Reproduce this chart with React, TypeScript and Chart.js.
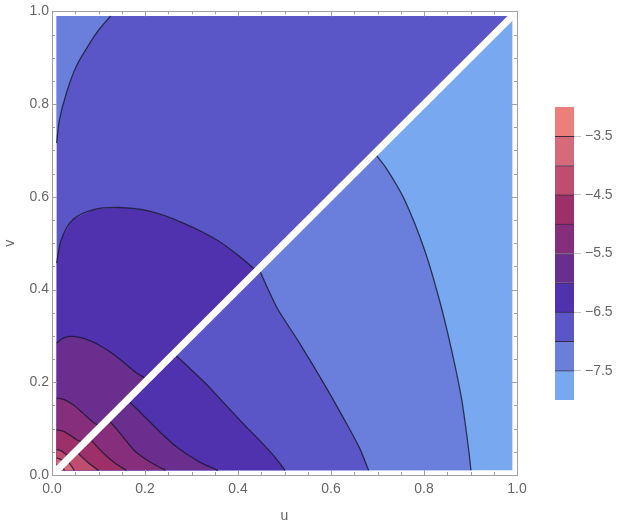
import React, { useEffect, useRef } from 'react';
import { Chart, registerables } from 'chart.js';
Chart.register(...registerables);

// ---------- data ----------
const U_MIN = 0.01;
const U_MAX = 0.99;

// band colours from level -8 (lowest) to -3 (highest), 0.5 steps
const bandColors = [
  '#78A8F0', '#6A7FDC', '#5A56C8', '#5031AE', '#6A2E8F',
  '#862E7B', '#9E3069', '#BE4D70', '#D6697A', '#EC7F7A',
];
const bandEdges = [-8, -7.5, -7, -6.5, -6, -5.5, -5, -4.5, -4, -3.5, -3];
const colorbarTicks = [-7.5, -6.5, -5.5, -4.5, -3.5];

const majorTicks = [0, 0.2, 0.4, 0.6, 0.8, 1.0];
const minorTicks = [0.05, 0.1, 0.15, 0.25, 0.3, 0.35, 0.45, 0.5, 0.55, 0.65, 0.7, 0.75, 0.85, 0.9, 0.95];

// contours above the diagonal (v > u), [u, v]
const upperM7 = [[0.01, 0.716], [0.016, 0.766], [0.031, 0.824], [0.052, 0.881], [0.081, 0.931], [0.102, 0.962], [0.126, 0.99]];
const upperM65 = [[0.01, 0.457], [0.02, 0.508], [0.045, 0.551], [0.088, 0.572], [0.145, 0.577], [0.21, 0.569], [0.281, 0.544], [0.353, 0.508], [0.403, 0.472], [0.44, 0.44]];
const upperM6 = [[0.01, 0.285], [0.025, 0.296], [0.045, 0.299], [0.07, 0.294], [0.1, 0.281], [0.13, 0.262], [0.16, 0.238], [0.185, 0.218], [0.206, 0.206]];
const upperM55 = [[0.01, 0.166], [0.025, 0.163], [0.045, 0.152], [0.066, 0.134], [0.087, 0.115], [0.104, 0.104]];
const upperM5 = [[0.01, 0.098], [0.025, 0.094], [0.04, 0.085], [0.055, 0.075], [0.07, 0.07]];
const upperM45 = [[0.01, 0.055], [0.02, 0.052], [0.032, 0.043], [0.042, 0.042]];
const upperM4 = [[0.01, 0.037], [0.02, 0.033], [0.028, 0.028]];
const upperM35 = [[0.01, 0.022], [0.018, 0.018]];

// contours below the diagonal (v < u), [u, v]
const lowerM75 = [[0.694, 0.694], [0.72, 0.66], [0.758, 0.594], [0.801, 0.486], [0.833, 0.378], [0.859, 0.271], [0.881, 0.163], [0.896, 0.055], [0.901, 0.01]];
const lowerM7 = [[0.445, 0.445], [0.465, 0.4], [0.486, 0.357], [0.532, 0.285], [0.586, 0.195], [0.629, 0.119], [0.661, 0.059], [0.681, 0.01]];
const lowerM65 = [[0.262, 0.262], [0.29, 0.236], [0.33, 0.198], [0.37, 0.155], [0.41, 0.112], [0.45, 0.071], [0.48, 0.038], [0.501, 0.01]];
const lowerM6 = [[0.162, 0.162], [0.19, 0.135], [0.231, 0.094], [0.265, 0.063], [0.296, 0.041], [0.325, 0.024], [0.357, 0.01]];
const lowerM55 = [[0.12, 0.12], [0.14, 0.098], [0.16, 0.073], [0.18, 0.05], [0.203, 0.033], [0.225, 0.02], [0.244, 0.01]];
const lowerM5 = [[0.08, 0.08], [0.1, 0.058], [0.117, 0.041], [0.135, 0.026], [0.16, 0.01]];
const lowerM45 = [[0.052, 0.052], [0.065, 0.038], [0.081, 0.024], [0.1, 0.01]];
const lowerM4 = [[0.032, 0.032], [0.04, 0.022], [0.048, 0.01]];
const lowerM35 = [[0.02, 0.02], [0.027, 0.01]];

const diagonal = [[0.007, 0.007], [0.993, 0.993]];

// ---------- style ----------
const FONT = '"Liberation Sans", Arial, Helvetica, sans-serif';
const LABEL_COLOR = '#666666';
const FRAME_COLOR = '#a0a0a0';
const CONTOUR_COLOR = 'rgba(25,22,45,0.8)';

const toXY = (pts: number[][]) => pts.map(([x, y]) => ({ x, y }));

const frameTicks = {
  id: 'frameTicks',
  afterDraw(chart: any) {
    const { ctx, chartArea: a, scales } = chart;
    const xs = scales.x;
    const ys = scales.y;
    ctx.save();
    ctx.strokeStyle = FRAME_COLOR;
    ctx.lineWidth = 1;
    const draw = (t: number, len: number) => {
      const px = Math.round(xs.getPixelForValue(t)) + 0.5;
      const py = Math.round(ys.getPixelForValue(t)) + 0.5;
      ctx.beginPath();
      ctx.moveTo(px, a.bottom); ctx.lineTo(px, a.bottom - len);
      ctx.moveTo(px, a.top); ctx.lineTo(px, a.top + len);
      ctx.moveTo(a.left, py); ctx.lineTo(a.left + len, py);
      ctx.moveTo(a.right, py); ctx.lineTo(a.right - len, py);
      ctx.stroke();
    };
    majorTicks.forEach((t) => draw(t, 5));
    minorTicks.forEach((t) => draw(t, 3));
    ctx.restore();
  },
};

export default function App() {
  const mainRef = useRef<HTMLCanvasElement>(null);
  const cbRef = useRef<HTMLCanvasElement>(null);

  useEffect(() => {
    const polygons: { pts: number[][]; color: string }[] = [
      { pts: [[U_MIN, U_MIN], [U_MIN, U_MAX], [U_MAX, U_MAX]], color: bandColors[2] },
      { pts: [[U_MIN, U_MAX], ...upperM7], color: bandColors[1] },
      { pts: [...upperM65, [U_MIN, U_MIN]], color: bandColors[3] },
      { pts: [...upperM6, [U_MIN, U_MIN]], color: bandColors[4] },
      { pts: [...upperM55, [U_MIN, U_MIN]], color: bandColors[5] },
      { pts: [...upperM5, [U_MIN, U_MIN]], color: bandColors[6] },
      { pts: [...upperM45, [U_MIN, U_MIN]], color: bandColors[7] },
      { pts: [...upperM4, [U_MIN, U_MIN]], color: bandColors[8] },
      { pts: [...upperM35, [U_MIN, U_MIN]], color: bandColors[9] },
      { pts: [[U_MIN, U_MIN], [U_MAX, U_MIN], [U_MAX, U_MAX]], color: bandColors[0] },
      { pts: [[U_MIN, U_MIN], ...lowerM75], color: bandColors[1] },
      { pts: [[U_MIN, U_MIN], ...lowerM7], color: bandColors[2] },
      { pts: [[U_MIN, U_MIN], ...lowerM65], color: bandColors[3] },
      { pts: [[U_MIN, U_MIN], ...lowerM6], color: bandColors[4] },
      { pts: [[U_MIN, U_MIN], ...lowerM55], color: bandColors[5] },
      { pts: [[U_MIN, U_MIN], ...lowerM5], color: bandColors[6] },
      { pts: [[U_MIN, U_MIN], ...lowerM45], color: bandColors[7] },
      { pts: [[U_MIN, U_MIN], ...lowerM4], color: bandColors[8] },
      { pts: [[U_MIN, U_MIN], ...lowerM35], color: bandColors[9] },
    ];
    const contours = [
      upperM7, upperM65, upperM6, upperM55, upperM5, upperM45, upperM4, upperM35,
      lowerM75, lowerM7, lowerM65, lowerM6, lowerM55, lowerM5, lowerM45, lowerM4, lowerM35,
    ];

    const datasets: any[] = [];
    polygons.forEach((p, i) => {
      datasets.push({
        data: toXY(p.pts),
        backgroundColor: p.color,
        borderColor: 'rgba(0,0,0,0)',
        borderWidth: 0,
        fill: 'shape',
        pointRadius: 0,
        tension: 0,
        order: 200 - i,
        xAxisID: 'x',
        yAxisID: 'y',
      });
    });
    contours.forEach((c) => {
      datasets.push({
        data: toXY(c),
        borderColor: CONTOUR_COLOR,
        borderWidth: 1.3,
        fill: false,
        pointRadius: 0,
        tension: 0.3,
        order: 5,
        xAxisID: 'x',
        yAxisID: 'y',
      });
    });
    datasets.push({
      data: toXY(diagonal),
      borderColor: '#ffffff',
      borderWidth: 7,
      borderCapStyle: 'butt',
      fill: false,
      pointRadius: 0,
      order: 0,
      xAxisID: 'x',
      yAxisID: 'y',
    });

    const tickFont = { family: FONT, size: 14 };
    const fmt = (v: any) => Number(v).toFixed(1);

    const main = new Chart(mainRef.current!, {
      type: 'line',
      data: { datasets },
      options: {
        animation: false,
        responsive: false,
        events: [],
        layout: { padding: 0 },
        plugins: { legend: { display: false }, tooltip: { enabled: false } },
        scales: {
          x: {
            type: 'linear', position: 'bottom', min: 0, max: 1,
            afterBuildTicks: (s: any) => { s.ticks = majorTicks.map((v) => ({ value: v })); },
            ticks: { callback: fmt, color: LABEL_COLOR, font: tickFont, padding: 6, maxRotation: 0, autoSkip: false },
            grid: { display: false, drawTicks: false },
            border: { display: true, color: FRAME_COLOR, width: 1 },
            title: { display: true, text: 'u', color: LABEL_COLOR, font: { family: FONT, size: 14 }, padding: { top: 0, bottom: 4 } },
            afterFit: (s: any) => { s.height = 54; },
          },
          y: {
            type: 'linear', position: 'left', min: 0, max: 1,
            afterBuildTicks: (s: any) => { s.ticks = majorTicks.map((v) => ({ value: v })); },
            ticks: { callback: fmt, color: LABEL_COLOR, font: tickFont, padding: 3, autoSkip: false },
            grid: { display: false, drawTicks: false },
            border: { display: true, color: FRAME_COLOR, width: 1 },
            title: { display: true, text: 'v', color: LABEL_COLOR, font: { family: FONT, size: 14 }, padding: { top: 2, bottom: 0 } },
            afterFit: (s: any) => { s.width = 52; },
          },
          x2: {
            type: 'linear', position: 'top', min: 0, max: 1,
            ticks: { display: false },
            grid: { display: false, drawTicks: false },
            border: { display: true, color: FRAME_COLOR, width: 1 },
            afterFit: (s: any) => { s.height = 11; },
          },
          y2: {
            type: 'linear', position: 'right', min: 0, max: 1,
            ticks: { display: false },
            grid: { display: false, drawTicks: false },
            border: { display: true, color: FRAME_COLOR, width: 1 },
            afterFit: (s: any) => { s.width = 106; },
          },
        },
      } as any,
      plugins: [frameTicks],
    });

    const cbDatasets = bandColors.map((c, i) => ({
      data: [[bandEdges[i], bandEdges[i + 1]]],
      backgroundColor: c,
      borderColor: 'rgba(40,25,50,0.9)',
      borderWidth: i === bandColors.length - 1 ? 0 : { top: 1, bottom: 0, left: 0, right: 0 },
      borderSkipped: false,
      grouped: false,
      barPercentage: 1,
      categoryPercentage: 1,
    }));

    const cb = new Chart(cbRef.current!, {
      type: 'bar',
      data: { labels: [''], datasets: cbDatasets as any },
      options: {
        animation: false,
        responsive: false,
        events: [],
        layout: { padding: { left: 15, top: 7, bottom: 10, right: 0 } },
        plugins: { legend: { display: false }, tooltip: { enabled: false } },
        scales: {
          x: { display: false },
          y: {
            position: 'right', min: -8, max: -3,
            afterBuildTicks: (s: any) => { s.ticks = colorbarTicks.map((v) => ({ value: v })); },
            ticks: {
              callback: (v: any) => (Number(v) < 0 ? '\u2212' : '') + Math.abs(Number(v)).toFixed(1),
              color: LABEL_COLOR, font: tickFont, padding: 4, autoSkip: false,
            },
            grid: { display: true, drawOnChartArea: false, drawTicks: true, tickLength: 7, color: '#c8c8c8' },
            border: { display: false },
            afterFit: (s: any) => { s.width = 49; s.paddingTop = 0; s.paddingBottom = 0; },
          },
        },
      } as any,
    });

    return () => { main.destroy(); cb.destroy(); };
  }, []);

  return (
    <div style={{ position: 'absolute', left: 0, top: 0, width: 623, height: 529, background: '#ffffff' }}>
      <canvas ref={mainRef} width={623} height={529} style={{ position: 'absolute', left: 0, top: 0 }} />
      <canvas ref={cbRef} width={83} height={310} style={{ position: 'absolute', left: 540, top: 100 }} />
    </div>
  );
}
